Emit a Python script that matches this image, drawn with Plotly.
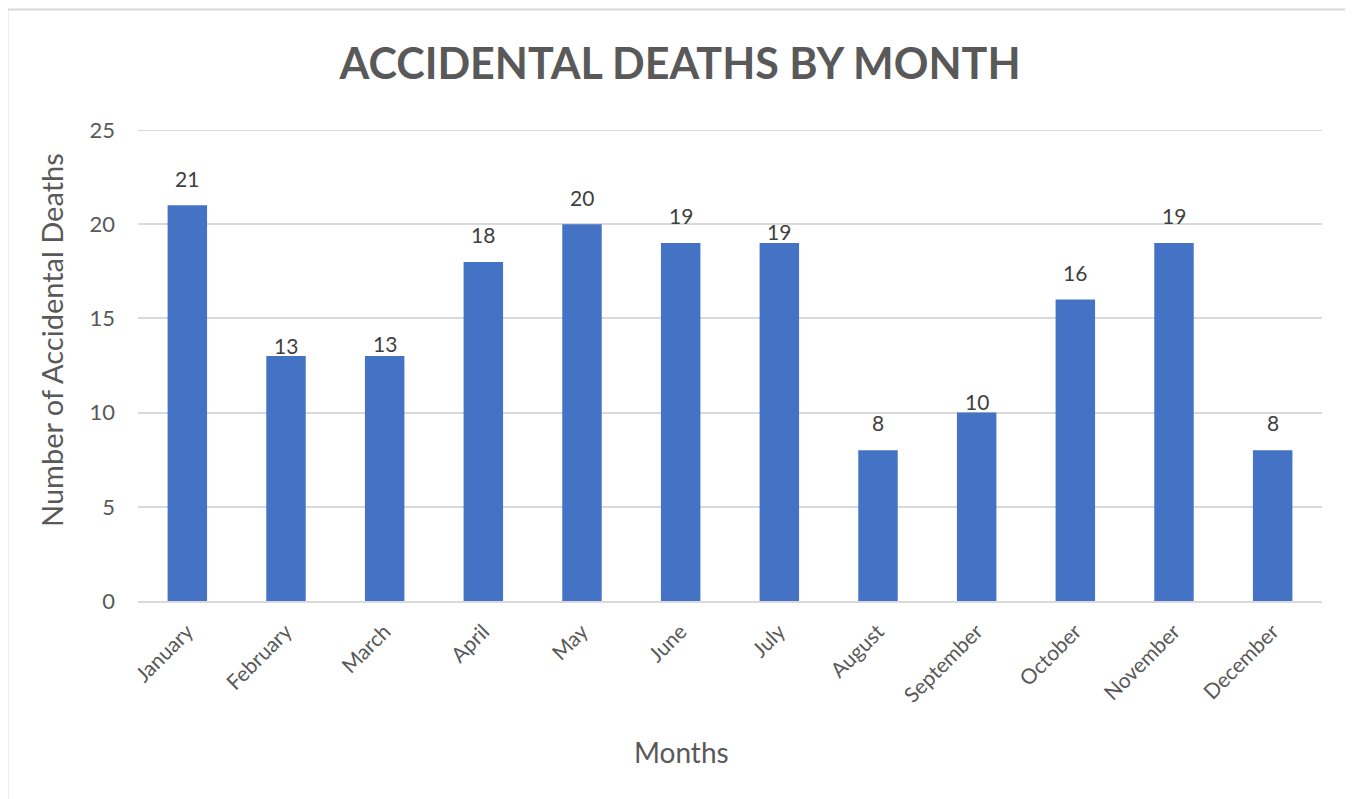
import plotly.graph_objects as go

months = ["January", "February", "March", "April", "May", "June", "July",
          "August", "September", "October", "November", "December"]
deaths = [21, 13, 13, 18, 20, 19, 19, 8, 10, 16, 19, 8]
y_ticks = [0, 5, 10, 15, 20, 25]

# label lift above the bar top, in pixels (the original places some labels lower)
label_lift = [27, 11, 13, 27, 27, 28, 12, 28, 11, 27, 28, 28]

FONT = "Lato, 'Open Sans', sans-serif"

# page offset (body margin) compensation
OFF = 8
W, H = 1353 - OFF, 799 - OFF
L, T = 138 - OFF, 130 - OFF
R, B = 1322 - OFF, 601 - OFF
pw = R - L
ph = B - T


def px_x(x):
    return (x - OFF - L) / pw


def px_y(y):
    return (B - (y - OFF)) / ph


fig = go.Figure(go.Bar(
    x=months, y=deaths,
    marker=dict(color="#4472C4", line=dict(width=0)),
    width=0.4,
))

for m, v, lift in zip(months, deaths, label_lift):
    fig.add_annotation(x=m, y=v, xref="x", yref="y", text=str(v), showarrow=False,
                       xanchor="center", yanchor="middle", yshift=lift,
                       font=dict(size=21, color="#404040", family=FONT))

fig.update_layout(
    width=W, height=H,
    margin=dict(l=L, r=W - R, t=T, b=H - B, autoexpand=False),
    paper_bgcolor="white", plot_bgcolor="white",
    title=dict(text="<b>ACCIDENTAL DEATHS BY MONTH</b>", x=(680 - OFF) / W, xanchor="center",
               y=1 - (64 - OFF) / H, yanchor="middle",
               font=dict(size=43, color="#595959", family=FONT)),
    font=dict(family=FONT, color="#595959"),
    showlegend=False,
)
fig.update_yaxes(range=[0, 25], tickvals=y_ticks, showgrid=True, gridcolor="#D9D9D9",
                 gridwidth=2, zeroline=False, showline=False, automargin=False,
                 tickfont=dict(size=22, color="#595959"), ticks="", ticklabelstandoff=22)
fig.update_xaxes(tickangle=-45, showline=True, linecolor="#D9D9D9", linewidth=2,
                 automargin=False,
                 tickfont=dict(size=21, color="#595959"), ticks="", ticklabelstandoff=8)

# axis titles (centred on the chart area, as in the original)
fig.add_annotation(text="Number of Accidental Deaths", xref="paper", yref="paper",
                   x=px_x(51), y=px_y(340), xanchor="center", yanchor="middle",
                   textangle=-90, showarrow=False,
                   font=dict(size=29, color="#595959", family=FONT))
fig.add_annotation(text="Months", xref="paper", yref="paper",
                   x=px_x(681), y=px_y(752), xanchor="center", yanchor="middle",
                   showarrow=False, font=dict(size=28, color="#595959", family=FONT))

# top gridline (at the range edge)
fig.add_shape(type="line", xref="paper", yref="y", x0=0, x1=1, y0=y_ticks[-1], y1=y_ticks[-1],
              line=dict(color="#D9D9D9", width=2), layer="below")

# chart border
fig.add_shape(type="rect", xref="paper", yref="paper",
              x0=(7 - OFF + 0.5 - L) / pw, x1=(1351 - OFF - L) / pw,
              y0=(B - 820) / ph, y1=(B - (9 - OFF + 0.5)) / ph,
              line=dict(color="#D9D9D9", width=2), fillcolor="rgba(0,0,0,0)", layer="below")

fig.write_html("out.html")
